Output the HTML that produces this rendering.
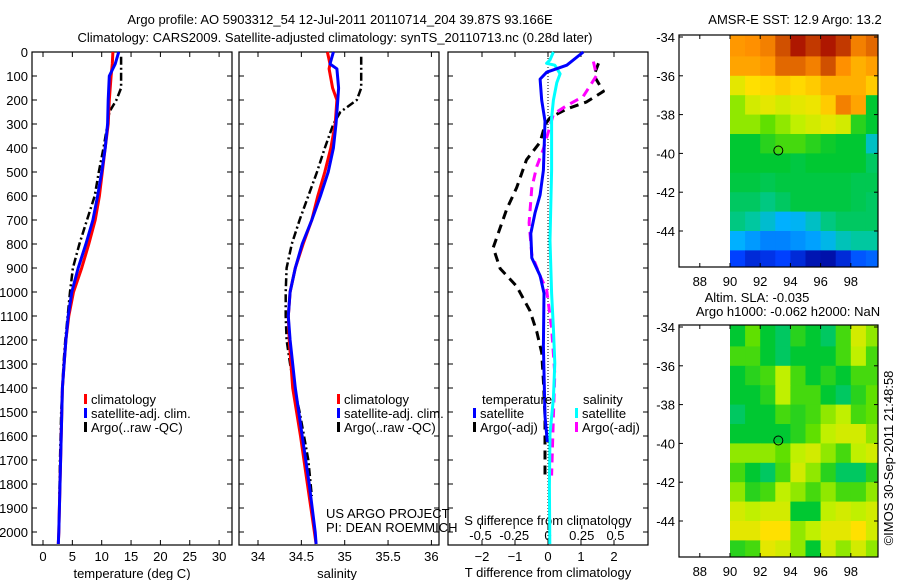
<!DOCTYPE html>
<html><head><meta charset="utf-8"><style>
html,body{margin:0;padding:0;background:#fff;}
svg{display:block;font-family:"Liberation Sans",sans-serif;}
text{fill:#000;font-size:13px;}
</style></head><body>
<svg id="fig" width="900" height="580" xmlns="http://www.w3.org/2000/svg">
<text x="340" y="24" text-anchor="middle" font-size="14">Argo profile: AO 5903312_54 12-Jul-2011 20110714_204 39.87S 93.166E</text>
<text x="335" y="42" text-anchor="middle" font-size="14">Climatology: CARS2009. Satellite-adjusted climatology: synTS_20110713.nc (0.28d later)</text>
<g id="g"></g>
</svg>
<script>
// ---- profile data ----
const tempDepth=[0,50,100,200,300,400,500,600,700,800,900,1000,1100,1200,1300,1400,1500,1600,1700,1800,1900,2000,2050];
const climT=[11.9,11.8,11.6,11.3,11.1,10.6,10.1,9.6,8.9,7.8,6.6,5.2,4.4,3.9,3.6,3.3,3.2,3.1,3.0,2.9,2.8,2.7,2.6];
const satT=[12.9,12.3,11.3,11.1,11.0,10.6,10.0,9.3,8.5,7.3,6.0,4.9,4.3,3.9,3.6,3.3,3.2,3.1,3.0,2.9,2.8,2.7,2.6];
const argoDepth=[20,150,200,250,300,400,500,600,700,800,900,1000,1100,1200,1300,1400,1500,1600,1700,1850];
const argoT=[13.3,13.3,12.5,11.3,11.0,10.3,9.5,8.8,7.5,6.2,5.1,4.6,4.2,3.8,3.5,3.3,3.1,3.0,2.9,2.8];
const salDepth=[0,50,70,150,200,300,400,500,600,700,800,900,1000,1100,1200,1400,1600,1800,2000,2050];
const climS=[34.80,34.83,34.82,34.86,34.91,34.89,34.84,34.77,34.69,34.62,34.52,34.43,34.37,34.35,34.36,34.40,34.49,34.57,34.65,34.67];
const satS=[34.87,34.83,34.91,34.93,34.92,34.90,34.87,34.81,34.72,34.62,34.51,34.43,34.37,34.35,34.37,34.43,34.51,34.59,34.66,34.67];
const argoS=[35.19,35.19,35.14,34.95,34.87,34.77,34.68,34.58,34.48,34.39,34.33,34.32,34.32,34.33,34.37,34.42,34.48,34.53,34.58,34.62];
// ---- difference data ----
const dSatTDepth=[0,55,84,113,201,288,493,595,669,756,858,932,1005,1224,1517,1625];
const dSatT=[1.07,0.57,-0.04,-0.24,-0.19,-0.09,-0.14,-0.24,-0.39,-0.52,-0.49,-0.24,-0.12,-0.14,-0.09,-0.02];
const dArgoTDepth=[47,98,164,208,237,274,303,376,449,566,654,815,902,976,1078,1166,1253,1370,1517,1780];
const dArgoT=[1.53,1.39,1.68,1.17,0.57,0.06,-0.09,-0.24,-0.65,-0.95,-1.25,-1.66,-1.45,-0.95,-0.55,-0.34,-0.19,-0.14,-0.09,-0.09];
const dSatSDepth=[0,33,47,55,91,128,201,274,493,785,1005,1151,1297,1443,1590,1809,2050];
const dSatS=[0.04,0.015,-0.01,0.05,0.09,0.065,0.04,0.027,0.027,0.015,0.027,0.04,0.05,0.04,0.015,0.01,0.013];
const dArgoSDepth=[40,98,186,223,259,318,405,478,566,712,844,932,990,1151,1341,1517,1765];
const dArgoS=[0.336,0.36,0.26,0.14,0.04,0.01,-0.035,-0.084,-0.12,-0.14,-0.12,-0.06,-0.01,0.027,0.05,0.04,0.027];
const depthTicks=[0,100,200,300,400,500,600,700,800,900,1000,1100,1200,1300,1400,1500,1600,1700,1800,1900,2000];
const tempTicks=[0,5,10,15,20,25,30];
const salTicks=[34,34.5,35,35.5,36];
const tdTicks=[-2,-1,0,1,2];
const sdTicks=[-0.5,-0.25,0,0.25,0.5];
// ---- map data (rows lat -34..-46 step 1, cols lon 90..100 step 1) ----
const sstGrid=[
[0.78,0.8,0.82,0.88,0.93,0.9,0.93,0.9,0.82,0.85],
[0.75,0.75,0.78,0.85,0.85,0.82,0.88,0.8,0.72,0.76],
[0.62,0.65,0.66,0.68,0.66,0.68,0.72,0.72,0.72,0.68],
[0.55,0.6,0.62,0.6,0.62,0.63,0.68,0.82,0.75,0.45],
[0.55,0.55,0.52,0.55,0.58,0.6,0.62,0.6,0.48,0.45],
[0.45,0.45,0.48,0.5,0.5,0.48,0.46,0.45,0.45,0.35],
[0.45,0.45,0.45,0.45,0.44,0.45,0.45,0.45,0.45,0.42],
[0.44,0.44,0.43,0.44,0.44,0.44,0.44,0.44,0.43,0.43],
[0.42,0.42,0.4,0.42,0.44,0.44,0.44,0.44,0.43,0.42],
[0.4,0.38,0.34,0.3,0.31,0.35,0.4,0.42,0.42,0.42],
[0.3,0.27,0.24,0.24,0.26,0.28,0.32,0.36,0.38,0.38],
[0.15,0.1,0.12,0.15,0.1,0.05,0.04,0.1,0.18,0.2]];
const slaGrid=[
[0.45,0.52,0.45,0.42,0.48,0.45,0.42,0.5,0.6,0.55],
[0.5,0.5,0.45,0.42,0.45,0.45,0.45,0.5,0.58,0.5],
[0.45,0.48,0.5,0.58,0.5,0.45,0.48,0.45,0.5,0.5],
[0.45,0.45,0.48,0.58,0.5,0.5,0.45,0.42,0.48,0.52],
[0.42,0.45,0.45,0.5,0.48,0.5,0.55,0.58,0.5,0.52],
[0.45,0.45,0.45,0.45,0.48,0.52,0.58,0.6,0.6,0.55],
[0.55,0.55,0.55,0.52,0.58,0.6,0.55,0.5,0.58,0.6],
[0.5,0.45,0.42,0.5,0.6,0.55,0.48,0.42,0.42,0.48],
[0.55,0.48,0.5,0.58,0.55,0.5,0.55,0.5,0.5,0.55],
[0.6,0.58,0.6,0.6,0.45,0.45,0.58,0.6,0.58,0.6],
[0.62,0.62,0.65,0.65,0.55,0.58,0.62,0.62,0.65,0.6],
[0.48,0.5,0.62,0.6,0.55,0.45,0.6,0.55,0.6,0.55]];
const lonTicks=[88,90,92,94,96,98];
const latTicks=[-34,-36,-38,-40,-42,-44];
const argoLon=93.2, argoLat=-39.85;

const NS="http://www.w3.org/2000/svg";
const G=document.getElementById('g');
function el(tag,attrs,parent){const e=document.createElementNS(NS,tag);for(const k in attrs)e.setAttribute(k,attrs[k]);(parent||G).appendChild(e);return e;}
function txt(x,y,s,anchor,parent,size){const t=el('text',{x:x,y:y,'text-anchor':anchor||'start'},parent);if(size)t.setAttribute('font-size',size);t.textContent=s;return t;}

const Y=d=>52+0.24*d;
const xT=v=>43+5.87*v;
const xS=v=>258+86.7*(v-34);
const xTd=v=>548+33*v;
const xSd=v=>548+135*v;

function frame(x0,x1,name){
  const r=el('rect',{x:x0,y:52,width:x1-x0,height:493,fill:'none',stroke:'#000','stroke-width':1.2});
  
  
  depthTicks.forEach(d=>{el('line',{x1:x0,x2:x0+5,y1:Y(d),y2:Y(d),stroke:'#000'});el('line',{x1:x1-5,x2:x1,y1:Y(d),y2:Y(d),stroke:'#000'});});
}
function line(xs,ys,xf,color,w,dash,name){
  const pts=xs.map((v,i)=>xf(v).toFixed(1)+','+Y(ys[i]).toFixed(1)).join(' ');
  const p=el('polyline',{points:pts,fill:'none',stroke:color,'stroke-width':w,'stroke-linejoin':'round'});
  if(dash)p.setAttribute('stroke-dasharray',dash);
  
  
}
function legendEntry(x,y,color,label,name){
  const g=el('g',{});
  
  
  el('rect',{x:x,y:y-10,width:3,height:10,fill:color},g);
  txt(x+7,y,label,'start',g);
}

// Panel 1 temperature
frame(32,232,'temperature-panel');
depthTicks.forEach(d=>{const t=txt(28,Y(d)+5,String(d),'end');});
tempTicks.forEach(v=>{el('line',{x1:xT(v),x2:xT(v),y1:52,y2:57,stroke:'#000'});el('line',{x1:xT(v),x2:xT(v),y1:540,y2:545,stroke:'#000'});txt(xT(v),561,String(v),'middle');});
{const t=txt(132,578,'temperature (deg C)','middle');}
line(argoT,argoDepth,xT,'#000',2.5,'8,3,2,3','argo-temperature-line');
line(climT,tempDepth,xT,'#f00',3,null,'climatology-temperature-line');
line(satT,tempDepth,xT,'#00f',3,null,'satellite-temperature-line');
legendEntry(84,404,'#f00','climatology','legend-climatology');
legendEntry(84,418,'#00f','satellite-adj. clim.','legend-satellite-adj');
legendEntry(84,432,'#000','Argo(..raw -QC)','legend-argo');

// Panel 2 salinity
frame(239,439,'salinity-panel');
salTicks.forEach(v=>{el('line',{x1:xS(v),x2:xS(v),y1:52,y2:57,stroke:'#000'});el('line',{x1:xS(v),x2:xS(v),y1:540,y2:545,stroke:'#000'});txt(xS(v),561,String(v),'middle');});
{const t=txt(337,578,'salinity','middle');}
line(argoS,argoDepth,xS,'#000',2.5,'8,3,2,3','argo-salinity-line');
line(climS,salDepth,xS,'#f00',3,null,'climatology-salinity-line');
line(satS,salDepth,xS,'#00f',3,null,'satellite-salinity-line');
legendEntry(337,404,'#f00','climatology','legend-climatology-2');
legendEntry(337,418,'#00f','satellite-adj. clim.','legend-satellite-adj-2');
legendEntry(337,432,'#000','Argo(..raw -QC)','legend-argo-2');
txt(326,518,'US ARGO PROJECT');
txt(326,532,'PI: DEAN ROEMMICH');

// Panel 3 differences
frame(448,648,'difference-panel');
el('line',{x1:548,x2:548,y1:52,y2:545,stroke:'#000','stroke-dasharray':'1,2'});
tdTicks.forEach(v=>{el('line',{x1:xTd(v),x2:xTd(v),y1:540,y2:545,stroke:'#000'});el('line',{x1:xTd(v),x2:xTd(v),y1:52,y2:57,stroke:'#000'});txt(xTd(v),561,v<0?'\u2212'+(-v):String(v),'middle');});
sdTicks.forEach(v=>{el('line',{x1:xSd(v),x2:xSd(v),y1:525,y2:529,stroke:'#000'});txt(xSd(v),540,v<0?'-'+(-v):String(v),'middle');});
{const t=txt(548,525,'S difference from climatology','middle');}
{const t=txt(548,577,'T difference from climatology','middle');}
line(dArgoT,dArgoTDepth,xTd,'#000',3,'9,6','argo-temperature-difference');
line(dArgoS,dArgoSDepth,xSd,'#f0f',3,'9,6','argo-salinity-difference');
line(dSatS,dSatSDepth,xSd,'#0ff',3,null,'satellite-salinity-difference');
line(dSatT,dSatTDepth,xTd,'#00f',3,null,'satellite-temperature-difference');
txt(482,404,'temperature');
txt(583,404,'salinity');
legendEntry(473,418,'#00f','satellite','legend-temperature-satellite');
legendEntry(473,432,'#000','Argo(-adj)','legend-temperature-argo');
legendEntry(575,418,'#0ff','satellite','legend-salinity-satellite');
legendEntry(575,432,'#f0f','Argo(-adj)','legend-salinity-argo');

// Maps
const cmapStops=[[0,[0,0,139]],[0.15,[0,64,255]],[0.3,[0,176,255]],[0.38,[0,200,160]],[0.45,[0,200,50]],[0.52,[96,224,0]],[0.58,[192,240,0]],[0.65,[255,224,0]],[0.72,[255,176,0]],[0.8,[255,144,0]],[0.88,[208,80,0]],[0.95,[160,0,0]],[1,[140,0,0]]];
function cmap(v){
  for(let i=1;i<cmapStops.length;i++){
    if(v<=cmapStops[i][0]){const a=cmapStops[i-1],b=cmapStops[i];const t=(v-a[0])/(b[0]-a[0]);
      return 'rgb('+a[1].map((c,k)=>Math.round(c+(b[1][k]-c)*t)).join(',')+')';}
  }
  return 'rgb(140,0,0)';
}
function drawMap(top,grid,name){
  const left=679,right=878,h=232;
  const mx=lon=>730+15.1*(lon-90);
  const my=lat=>top+2+19.4*(-34-lat);
  const g=el('g',{});
  
  
  const cid='clip'+top;
  const cp=el('clipPath',{id:cid},g);el('rect',{x:left,y:top,width:right-left,height:h},cp);
  const cells=el('g',{'clip-path':'url(#'+cid+')'},g);
  grid.forEach((row,i)=>row.forEach((v,j)=>{
    const lat=-34-i, lon=90+j;
    const yy=(i===0)?top:my(lat);
    const hh=(i===0)?my(lat-1)-top+0.5:19.9;
    const r=el('rect',{x:mx(lon).toFixed(1),y:yy.toFixed(1),width:15.6,height:hh.toFixed(1),fill:cmap(v)},cells);
    
    
  }));
  el('rect',{x:left,y:top,width:right-left,height:h,fill:'none',stroke:'#000','stroke-width':1.2},g);
  lonTicks.forEach(l=>{el('line',{x1:mx(l),x2:mx(l),y1:top+h-4,y2:top+h,stroke:'#000'},g);el('line',{x1:mx(l),x2:mx(l),y1:top,y2:top+4,stroke:'#000'},g);txt(mx(l),top+h+19,String(l),'middle',g);});
  latTicks.forEach(l=>{el('line',{x1:left,x2:left+4,y1:my(l),y2:my(l),stroke:'#000'},g);el('line',{x1:right-4,x2:right,y1:my(l),y2:my(l),stroke:'#000'},g);txt(left-4,my(l)+5,String(l),'end',g);});
  const c=el('circle',{cx:mx(argoLon),cy:my(argoLat),r:4.5,fill:'none',stroke:'#000','stroke-width':1},g);
  
  
}
txt(795,24,'AMSR-E SST: 12.9 Argo: 13.2','middle');
drawMap(35,sstGrid,'sst-map');
txt(757,302,'Altim. SLA: -0.035','middle');
txt(788,316,'Argo h1000: -0.062 h2000: NaN','middle');
drawMap(325,slaGrid,'sla-map');
{const t=txt(0,0,'\u00a9IMOS 30-Sep-2011 21:48:58','middle');t.setAttribute('transform','translate(893,458) rotate(-90)');}
</script>
</body></html>
